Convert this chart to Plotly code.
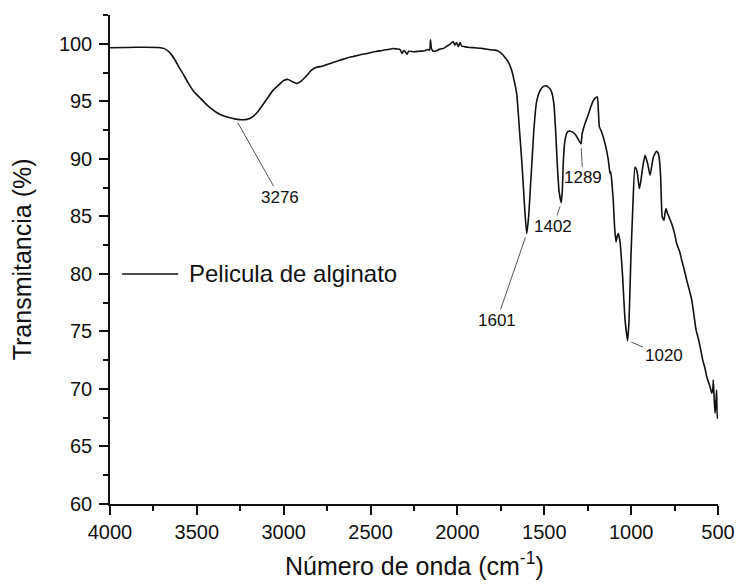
import plotly.graph_objects as go

# FTIR spectrum of the alginate film: wavenumber (cm-1) and transmittance (%)
wavenumber = [
    4000, 3900, 3800, 3720, 3690, 3660, 3630, 3600, 3580, 3550, 3520, 3482, 3450, 3420,
    3384, 3340, 3292, 3276, 3240, 3211, 3180, 3154, 3120, 3090, 3062, 3030, 3000, 2975,
    2950, 2923, 2900, 2870, 2840, 2810, 2780, 2750, 2716, 2680, 2640, 2600, 2560, 2520,
    2480, 2440, 2400, 2371, 2350, 2330, 2319, 2310, 2300, 2290, 2280, 2250, 2220, 2190,
    2170, 2160, 2155, 2150, 2140, 2120, 2100, 2080, 2060, 2040, 2025, 2015, 2005, 1995,
    1985, 1975, 1960, 1940, 1900, 1860, 1820, 1790, 1772, 1750, 1726, 1707, 1690, 1678,
    1659, 1644, 1630, 1620, 1612, 1601, 1590, 1580, 1570, 1560, 1545, 1525, 1505, 1490,
    1475, 1460, 1445, 1435, 1425, 1415, 1402, 1396, 1390, 1381, 1367, 1352, 1335, 1320,
    1305, 1289, 1282, 1265, 1250, 1235, 1220, 1208, 1195, 1188, 1183, 1170, 1150, 1131,
    1122, 1118, 1112, 1103, 1095, 1087, 1080, 1074, 1064, 1049, 1035, 1020, 1012, 1002,
    991, 978, 970, 964, 953, 945, 933, 920, 905, 891, 880, 872, 853, 845,
    839, 830, 821, 811, 805, 799, 792, 786, 767, 750, 738, 720, 709, 695,
    680, 665, 651, 640, 626, 617, 607, 598, 588, 575, 565, 555, 546, 536,
    530, 527, 522, 517, 512, 508, 504, 500,
]
transmittance = [
    99.65, 99.68, 99.70, 99.68, 99.60, 99.30, 98.70, 97.90, 97.40, 96.60, 95.90, 95.30, 94.80, 94.40,
    94.00, 93.70, 93.50, 93.45, 93.40, 93.43, 93.65, 94.00, 94.70, 95.35, 95.95, 96.40, 96.80, 96.90,
    96.70, 96.55, 96.75, 97.20, 97.70, 97.95, 98.05, 98.20, 98.38, 98.55, 98.75, 98.90, 99.05, 99.16,
    99.30, 99.40, 99.50, 99.59, 99.55, 99.50, 99.15, 99.40, 99.30, 99.10, 99.35, 99.30, 99.35, 99.40,
    99.50, 99.45, 100.35, 99.60, 99.35, 99.40, 99.55, 99.60, 99.80, 100.00, 100.20, 99.90, 100.10, 99.75,
    100.10, 99.80, 99.75, 99.70, 99.65, 99.60, 99.50, 99.45, 99.42, 99.20, 98.81, 98.40, 97.80, 97.10,
    95.66, 92.76, 89.87, 87.50, 85.50, 83.50, 85.00, 87.50, 90.00, 92.50, 94.90, 95.90, 96.30, 96.35,
    96.20, 95.90, 94.80, 92.50, 89.50, 87.20, 86.20, 87.30, 89.90, 91.60, 92.33, 92.42, 92.30, 92.10,
    91.70, 91.30, 92.20, 93.10, 93.70, 94.40, 95.00, 95.25, 95.40, 94.00, 92.80, 92.33, 91.32, 89.87,
    88.72, 88.90, 88.13, 86.40, 84.00, 82.78, 83.30, 83.50, 82.78, 79.74, 75.98, 74.20, 76.00, 81.19,
    85.53, 89.29, 89.10, 88.72, 87.41, 88.00, 89.29, 90.30, 89.58, 88.57, 89.50, 90.16, 90.68, 90.50,
    90.16, 88.42, 84.95, 84.66, 85.30, 85.68, 85.30, 85.10, 84.37, 83.50, 82.64, 81.90, 81.19, 80.40,
    79.45, 78.60, 77.72, 76.60, 75.11, 74.60, 73.96, 73.30, 72.51, 71.80, 71.06, 70.60, 70.20, 69.62,
    70.00, 70.77, 69.20, 67.88, 68.80, 69.90, 67.45, 67.60,
]

series_name = "Pelicula de alginato"

# Labelled absorption bands: wavenumber, transmittance, label offset (px)
peak_labels = ["3276", "1601", "1402", "1289", "1020"]
peak_x = [3276, 1601, 1402, 1289, 1020]
peak_y = [93.45, 83.50, 86.20, 91.30, 74.20]
label_dx = [44, -30, -8, 2, 36]
label_dy = [78, 87, 24, 34, 15]

x_ticks = [4000, 3500, 3000, 2500, 2000, 1500, 1000, 500]
y_ticks = [60, 65, 70, 75, 80, 85, 90, 95, 100]

FONT = "Arial, Liberation Sans, sans-serif"
INK = "#111111"

fig = go.Figure()
fig.add_trace(go.Scatter(
    x=wavenumber, y=transmittance, mode="lines", name=series_name,
    line=dict(color=INK, width=1.6, shape="spline", smoothing=0.5), showlegend=False,
))

for lab, px, py, dx, dy in zip(peak_labels, peak_x, peak_y, label_dx, label_dy):
    fig.add_annotation(
        x=px, y=py, xref="x", yref="y", text=lab,
        showarrow=True, arrowhead=0, arrowwidth=1, arrowcolor="#555555",
        ax=dx, ay=dy, standoff=4,
        font=dict(family=FONT, size=17, color=INK),
    )

# Legend sample drawn as a short line with its label
fig.add_shape(type="line", xref="x domain", yref="y", x0=0.02, x1=0.112, y0=80, y1=80,
              line=dict(color=INK, width=1.5))
fig.add_annotation(xref="x domain", yref="y", x=0.127, y=80, text=series_name,
                   showarrow=False, xanchor="left", yanchor="middle",
                   font=dict(family=FONT, size=24, color=INK))

# Axis titles
fig.add_annotation(xref="paper", yref="paper", x=-0.145, y=0.5, text="Transmitancia (%)",
                   textangle=-90, showarrow=False, xanchor="center", yanchor="middle",
                   font=dict(family=FONT, size=25, color=INK))
fig.add_annotation(xref="paper", yref="paper", x=0.5, y=-0.123,
                   text="Número de onda (cm<sup>-1</sup>)",
                   showarrow=False, xanchor="center", yanchor="middle",
                   font=dict(family=FONT, size=25, color=INK))

axis_common = dict(
    showline=True, linecolor=INK, linewidth=1.5, mirror=False,
    ticks="outside", ticklen=9, tickwidth=1.5, tickcolor=INK,
    showgrid=False, zeroline=False, automargin=False,
    tickfont=dict(family=FONT, size=20, color=INK),
)

fig.update_xaxes(
    range=[4000, 500], tickvals=x_ticks, ticktext=[str(v) for v in x_ticks],
    minor=dict(ticks="outside", ticklen=5, tickwidth=1.5, tickcolor=INK, dtick=250, tick0=500),
    **axis_common,
)
fig.update_yaxes(
    range=[60, 102.5], tickvals=y_ticks, ticktext=[str(v) for v in y_ticks],
    minor=dict(ticks="outside", ticklen=5, tickwidth=1.5, tickcolor=INK, dtick=2.5, tick0=60),
    ticklabelstandoff=3,
    **axis_common,
)

fig.update_layout(
    width=737, height=584,
    margin=dict(l=110, r=19, t=15, b=80),
    plot_bgcolor="white", paper_bgcolor="white",
    showlegend=False,
)

fig.write_html("out.html")
